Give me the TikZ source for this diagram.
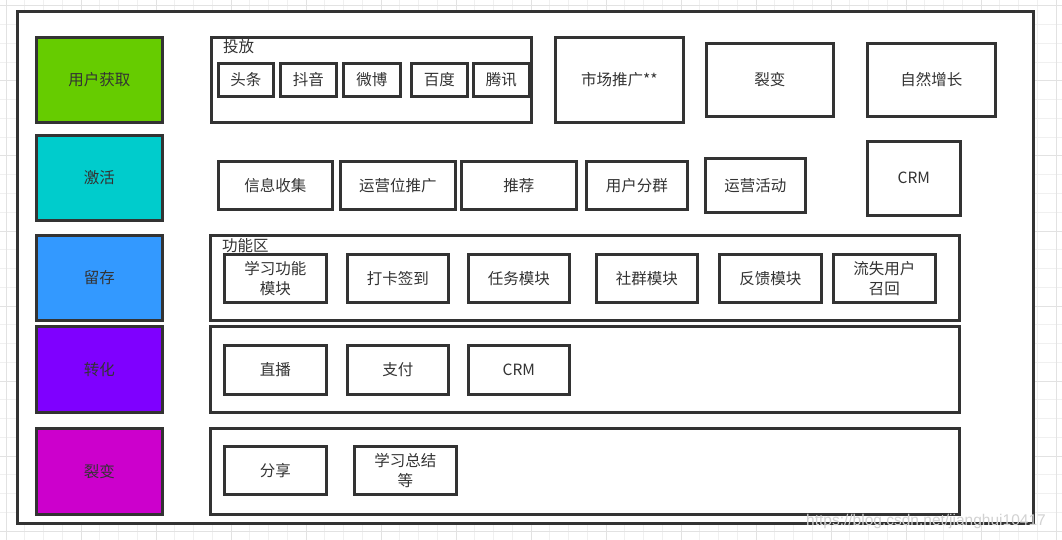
\documentclass[tikz,border=0pt]{standalone}
\usepackage{fontspec}
\setmainfont{Noto Sans CJK SC}
\newfontfamily\markfont{Liberation Sans}
\definecolor{edge}{HTML}{333333}
\definecolor{ink}{HTML}{333333}
\definecolor{gridminor}{HTML}{F0F0F0}
\definecolor{gridmajor}{HTML}{E2E2E2}
\definecolor{getgreen}{HTML}{66CC00}
\definecolor{actcyan}{HTML}{00CCCC}
\definecolor{keepblue}{HTML}{3399FF}
\definecolor{payviolet}{HTML}{7F00FF}
\definecolor{splitpink}{HTML}{CC00CC}

\begin{document}
\begin{tikzpicture}[x=1pt, y=-1pt,
  cell/.style={draw=edge, line width=2.6pt, anchor=north west, inner sep=0pt,
    align=center, text=ink, font=\fontsize{15.5}{20}\selectfont},
  stage/.style={cell},
  group/.style={cell, fill=white},
  tag/.style={anchor=base west, inner sep=0pt, text=ink, font=\fontsize{15.5}{18}\selectfont}]

  \useasboundingbox (0,0) rectangle (1062,540);
  \fill[white] (0,0) rectangle (1062,540);
  \foreach \k in {0,...,56}
    \draw[gridminor, line width=1pt] ({6+18.75*\k},0) -- ({6+18.75*\k},540);
  \foreach \k in {0,...,28}
    \draw[gridminor, line width=1pt] (0,{6+18.75*\k}) -- (1062,{6+18.75*\k});
  \foreach \k in {0,...,14}
    \draw[gridmajor, line width=1pt] ({6+75*\k},0) -- ({6+75*\k},540);
  \foreach \k in {0,...,7}
    \draw[gridmajor, line width=1pt] (0,{6+75*\k}) -- (1062,{6+75*\k});

  \node[group, minimum width=1016pt, minimum height=512pt] (frame) at (16,10) {};

  % stages
  \node[stage, fill=getgreen, minimum width=126pt, minimum height=85pt] (get) at (35,36) {用户获取};
  \node[stage, fill=actcyan, minimum width=126pt, minimum height=85pt] (act) at (35,134) {激活};
  \node[stage, fill=keepblue, minimum width=126pt, minimum height=85pt] (keep) at (35,234) {留存};
  \node[stage, fill=payviolet, minimum width=126pt, minimum height=86pt] (pay) at (35,325) {转化};
  \node[stage, fill=splitpink, minimum width=126pt, minimum height=86pt] (split) at (35,427) {裂变};

  % acquisition
  \node[group, minimum width=320pt, minimum height=85pt] (ads) at (210,36) {};
  \node[tag] (adslabel) at (223,53) {投放};
  \node[cell, minimum width=55pt, minimum height=33pt] (toutiao) at (217,62) {头条};
  \node[cell, minimum width=56pt, minimum height=33pt] (douyin) at (279,62) {抖音};
  \node[cell, minimum width=57pt, minimum height=33pt] (weibo) at (342,62) {微博};
  \node[cell, minimum width=56pt, minimum height=33pt] (baidu) at (410,62) {百度};
  \node[cell, minimum width=56pt, minimum height=33pt] (tencent) at (472,62) {腾讯};
  \node[cell, minimum width=128pt, minimum height=85pt] (market) at (554,36) {市场推广**};
  \node[cell, minimum width=127pt, minimum height=73pt] (viral) at (705,42) {裂变};
  \node[cell, minimum width=128pt, minimum height=73pt] (organic) at (866,42) {自然增长};

  % activation
  \node[cell, minimum width=114pt, minimum height=48pt] (collect) at (217,160) {信息收集};
  \node[cell, minimum width=115pt, minimum height=48pt] (slots) at (339,160) {运营位推广};
  \node[cell, minimum width=115pt, minimum height=48pt] (recommend) at (460,160) {推荐};
  \node[cell, minimum width=101pt, minimum height=48pt] (segment) at (585,160) {用户分群};
  \node[cell, minimum width=100pt, minimum height=54pt] (events) at (704,157) {运营活动};
  \node[cell, minimum width=93pt, minimum height=74pt] (crmact) at (866,140) {CRM};

  % retention
  \node[group, minimum width=749pt, minimum height=85pt] (features) at (209,234) {};
  \node[tag] (featlabel) at (222,251) {功能区};
  \node[cell, minimum width=102pt, minimum height=48pt] (study) at (223,253) {学习功能\\模块};
  \node[cell, minimum width=101pt, minimum height=48pt] (checkin) at (346,253) {打卡签到};
  \node[cell, minimum width=101pt, minimum height=48pt] (tasks) at (467,253) {任务模块};
  \node[cell, minimum width=101pt, minimum height=48pt] (community) at (595,253) {社群模块};
  \node[cell, minimum width=102pt, minimum height=48pt] (feedback) at (718,253) {反馈模块};
  \node[cell, minimum width=102pt, minimum height=48pt] (winback) at (832,253) {流失用户\\召回};

  % conversion
  \node[group, minimum width=749pt, minimum height=86pt] (convrow) at (209,325) {};
  \node[cell, minimum width=102pt, minimum height=49pt] (live) at (223,344) {直播};
  \node[cell, minimum width=101pt, minimum height=49pt] (payment) at (346,344) {支付};
  \node[cell, minimum width=101pt, minimum height=49pt] (crmpay) at (467,344) {CRM};

  % referral
  \node[group, minimum width=749pt, minimum height=86pt] (sharerow) at (209,427) {};
  \node[cell, minimum width=102pt, minimum height=48pt] (share) at (223,445) {分享};
  \node[cell, minimum width=102pt, minimum height=48pt] (summary) at (353,445) {学习总结\\等};

  \node[anchor=west, inner sep=0pt, text=gray!35, font=\markfont\fontsize{15.5}{16}\selectfont] (mark) at (806,521) {https://blog.csdn.net/jianghui10417};
\end{tikzpicture}
\end{document}
